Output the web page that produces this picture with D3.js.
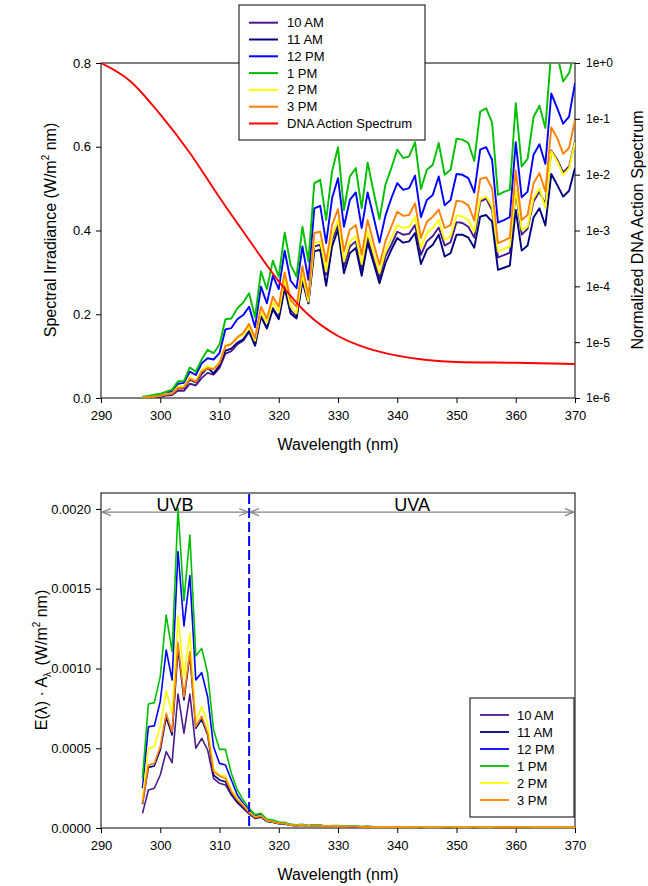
<!DOCTYPE html>
<html>
<head>
<meta charset="utf-8">
<script src="https://cdn.jsdelivr.net/npm/d3@7"></script>
<style>
    body { margin: 0; background: #fff; }
    svg { font-family: "Liberation Sans", Arial, sans-serif; }
    text { white-space: pre; }
</style>
</head>
<body>
<div id="chart"></div>
<script>
// wavelengths of the measured spectra, nm
const wavelengths = d3.range(297, 371)

// spectral irradiance, W/m2 nm (top panel)
const irr10am = [0.000, 0.001, 0.002, 0.003, 0.006, 0.007, 0.018, 0.017, 0.034, 0.030,
    0.048, 0.060, 0.056, 0.072, 0.106, 0.112, 0.128, 0.137, 0.158, 0.126,
    0.194, 0.168, 0.215, 0.192, 0.268, 0.210, 0.194, 0.286, 0.226, 0.362,
    0.366, 0.294, 0.378, 0.413, 0.314, 0.362, 0.374, 0.306, 0.382, 0.334,
    0.286, 0.338, 0.366, 0.397, 0.390, 0.392, 0.413, 0.342, 0.374, 0.387,
    0.407, 0.364, 0.372, 0.420, 0.418, 0.409, 0.383, 0.469, 0.476, 0.449,
    0.336, 0.341, 0.347, 0.495, 0.390, 0.404, 0.469, 0.493, 0.463, 0.591,
    0.569, 0.539, 0.553, 0.614]
const irr11am = [0.001, 0.002, 0.003, 0.004, 0.008, 0.009, 0.024, 0.023, 0.044, 0.037,
    0.058, 0.072, 0.059, 0.077, 0.113, 0.118, 0.132, 0.140, 0.160, 0.125,
    0.195, 0.166, 0.212, 0.188, 0.262, 0.202, 0.190, 0.278, 0.226, 0.350,
    0.354, 0.268, 0.362, 0.402, 0.298, 0.346, 0.358, 0.292, 0.370, 0.323,
    0.274, 0.322, 0.354, 0.382, 0.371, 0.374, 0.394, 0.320, 0.354, 0.366,
    0.390, 0.338, 0.346, 0.390, 0.390, 0.383, 0.359, 0.433, 0.437, 0.421,
    0.306, 0.311, 0.316, 0.449, 0.352, 0.364, 0.431, 0.453, 0.412, 0.535,
    0.509, 0.481, 0.495, 0.549]
const irr12pm = [0.002, 0.004, 0.006, 0.008, 0.013, 0.016, 0.034, 0.036, 0.063, 0.055,
    0.083, 0.095, 0.092, 0.107, 0.164, 0.167, 0.188, 0.198, 0.218, 0.169,
    0.266, 0.226, 0.292, 0.260, 0.352, 0.280, 0.262, 0.362, 0.282, 0.453,
    0.459, 0.370, 0.477, 0.525, 0.409, 0.473, 0.491, 0.406, 0.491, 0.433,
    0.371, 0.435, 0.477, 0.513, 0.497, 0.501, 0.531, 0.432, 0.473, 0.485,
    0.529, 0.460, 0.473, 0.535, 0.533, 0.525, 0.491, 0.593, 0.599, 0.569,
    0.419, 0.425, 0.432, 0.611, 0.479, 0.493, 0.581, 0.606, 0.559, 0.727,
    0.692, 0.655, 0.672, 0.752]
const irr1pm = [0.003, 0.005, 0.008, 0.010, 0.015, 0.020, 0.040, 0.041, 0.073, 0.063,
    0.092, 0.115, 0.107, 0.127, 0.188, 0.190, 0.214, 0.228, 0.250, 0.193,
    0.302, 0.260, 0.328, 0.290, 0.395, 0.318, 0.290, 0.409, 0.326, 0.513,
    0.521, 0.425, 0.541, 0.599, 0.449, 0.529, 0.549, 0.453, 0.562, 0.493,
    0.427, 0.509, 0.549, 0.593, 0.573, 0.577, 0.611, 0.499, 0.545, 0.557,
    0.609, 0.533, 0.545, 0.619, 0.617, 0.609, 0.566, 0.684, 0.692, 0.658,
    0.485, 0.492, 0.497, 0.704, 0.553, 0.571, 0.671, 0.698, 0.645, 0.830,
    0.820, 0.756, 0.776, 0.830]
const irr2pm = [0.001, 0.002, 0.004, 0.005, 0.010, 0.011, 0.028, 0.027, 0.050, 0.040,
    0.066, 0.076, 0.070, 0.085, 0.126, 0.130, 0.143, 0.151, 0.170, 0.137,
    0.207, 0.180, 0.229, 0.205, 0.284, 0.218, 0.202, 0.294, 0.230, 0.370,
    0.374, 0.302, 0.386, 0.425, 0.326, 0.374, 0.386, 0.320, 0.397, 0.346,
    0.298, 0.350, 0.382, 0.413, 0.406, 0.409, 0.432, 0.358, 0.394, 0.406,
    0.425, 0.378, 0.386, 0.436, 0.433, 0.425, 0.397, 0.476, 0.481, 0.457,
    0.350, 0.356, 0.362, 0.497, 0.402, 0.409, 0.477, 0.501, 0.453, 0.589,
    0.565, 0.533, 0.549, 0.611]
const irr3pm = [0.001, 0.002, 0.003, 0.005, 0.008, 0.010, 0.024, 0.025, 0.046, 0.039,
    0.063, 0.071, 0.069, 0.083, 0.124, 0.129, 0.145, 0.155, 0.177, 0.143,
    0.218, 0.190, 0.242, 0.218, 0.300, 0.234, 0.218, 0.315, 0.242, 0.394,
    0.397, 0.326, 0.413, 0.451, 0.350, 0.402, 0.413, 0.342, 0.425, 0.370,
    0.318, 0.374, 0.409, 0.445, 0.435, 0.437, 0.465, 0.382, 0.421, 0.433,
    0.450, 0.406, 0.413, 0.471, 0.469, 0.460, 0.424, 0.523, 0.527, 0.501,
    0.370, 0.376, 0.383, 0.543, 0.425, 0.437, 0.513, 0.537, 0.493, 0.646,
    0.621, 0.583, 0.597, 0.664]

// DNA action spectrum, normalized (right log axis)
const actionWl = [290, 295, 300, 305, 310, 315, 320, 325, 330, 335, 340, 345, 350, 360, 370]
const actionVal = [1, 0.468, 0.120, 0.0245, 0.00389, 0.000676, 0.000123, 3.09e-5,
    1.29e-5, 7.76e-6, 5.75e-6, 4.79e-6, 4.42e-6, 4.27e-6, 4.07e-6]

// weighted irradiance E(l)*A(l), W/m2 nm (bottom panel)
const ea10am = [0.000092, 0.000238, 0.000249, 0.000332, 0.000479, 0.000410, 0.000840, 0.000594, 0.000840, 0.000500,
    0.000562, 0.000489, 0.000311, 0.000280, 0.000270, 0.000207, 0.000159, 0.000123, 0.000088, 0.000060,
    0.000068, 0.000041, 0.000036, 0.000027,
    2.6e-5, 1.8e-5, 1.5e-5, 1.7e-5, 1.2e-5, 1.5e-5, 1.3e-5, 0.9e-5, 1.1e-5, 1.1e-5,
    0.8e-5, 0.8e-5, 0.8e-5, 0.6e-5, 0.7e-5, 0.6e-5, 0.5e-5, 0.6e-5, 0.6e-5, 0.6e-5,
    0.6e-5, 0.6e-5, 0.6e-5, 0.5e-5, 0.5e-5, 0.5e-5, 0.5e-5, 0.5e-5, 0.5e-5, 0.5e-5,
    0.5e-5, 0.5e-5, 0.5e-5, 0.5e-5, 0.5e-5, 0.5e-5, 0.4e-5, 0.4e-5, 0.4e-5, 0.5e-5,
    0.4e-5, 0.4e-5, 0.5e-5, 0.5e-5, 0.5e-5, 0.6e-5, 0.6e-5, 0.6e-5, 0.6e-5, 0.6e-5]
const ea11am = [0.000150, 0.000380, 0.000389, 0.000489, 0.000694, 0.000583, 0.001126, 0.000803, 0.001085, 0.000625,
    0.000681, 0.000583, 0.000332, 0.000301, 0.000290, 0.000217, 0.000165, 0.000130, 0.000092, 0.000063,
    0.000070, 0.000042, 0.000037, 0.000028,
    2.6e-5, 1.8e-5, 1.5e-5, 1.7e-5, 1.2e-5, 1.5e-5, 1.3e-5, 0.9e-5, 1.1e-5, 1.1e-5,
    0.8e-5, 0.8e-5, 0.8e-5, 0.6e-5, 0.7e-5, 0.6e-5, 0.5e-5, 0.5e-5, 0.5e-5, 0.6e-5,
    0.5e-5, 0.5e-5, 0.5e-5, 0.4e-5, 0.5e-5, 0.5e-5, 0.5e-5, 0.4e-5, 0.4e-5, 0.5e-5,
    0.5e-5, 0.5e-5, 0.4e-5, 0.5e-5, 0.5e-5, 0.5e-5, 0.3e-5, 0.3e-5, 0.3e-5, 0.5e-5,
    0.4e-5, 0.4e-5, 0.5e-5, 0.5e-5, 0.5e-5, 0.5e-5, 0.5e-5, 0.5e-5, 0.5e-5, 0.6e-5]
const ea12pm = [0.000249, 0.000635, 0.000640, 0.000792, 0.001116, 0.000928, 0.001733, 0.001266, 0.001582, 0.000928,
    0.000974, 0.000823, 0.000510, 0.000405, 0.000395, 0.000301, 0.000207, 0.000155, 0.000113, 0.000078,
    0.000082, 0.000050, 0.000045, 0.000034,
    3.1e-5, 2.1e-5, 1.8e-5, 2.0e-5, 1.4e-5, 1.8e-5, 1.6e-5, 1.1e-5, 1.3e-5, 1.3e-5,
    0.9e-5, 1.0e-5, 1.0e-5, 0.8e-5, 0.9e-5, 0.7e-5, 0.6e-5, 0.7e-5, 0.7e-5, 0.7e-5,
    0.7e-5, 0.7e-5, 0.7e-5, 0.5e-5, 0.6e-5, 0.6e-5, 0.6e-5, 0.5e-5, 0.5e-5, 0.6e-5,
    0.6e-5, 0.6e-5, 0.5e-5, 0.6e-5, 0.6e-5, 0.6e-5, 0.4e-5, 0.4e-5, 0.4e-5, 0.6e-5,
    0.5e-5, 0.5e-5, 0.6e-5, 0.6e-5, 0.6e-5, 0.7e-5, 0.7e-5, 0.7e-5, 0.7e-5, 0.7e-5]
const ea1pm = [0.000311, 0.000777, 0.000786, 0.000949, 0.001335, 0.001105, 0.002004, 0.001425, 0.001837, 0.001078,
    0.001126, 0.000970, 0.000614, 0.000493, 0.000493, 0.000343, 0.000238, 0.000176, 0.000123, 0.000085,
    0.000092, 0.000055, 0.000050, 0.000038,
    3.5e-5, 2.4e-5, 2.0e-5, 2.3e-5, 1.6e-5, 2.0e-5, 1.8e-5, 1.3e-5, 1.5e-5, 1.5e-5,
    1.0e-5, 1.1e-5, 1.1e-5, 0.9e-5, 1.0e-5, 0.8e-5, 0.7e-5, 0.8e-5, 0.8e-5, 0.8e-5,
    0.8e-5, 0.8e-5, 0.8e-5, 0.6e-5, 0.7e-5, 0.7e-5, 0.7e-5, 0.6e-5, 0.6e-5, 0.7e-5,
    0.7e-5, 0.7e-5, 0.6e-5, 0.7e-5, 0.7e-5, 0.7e-5, 0.5e-5, 0.5e-5, 0.5e-5, 0.7e-5,
    0.6e-5, 0.6e-5, 0.7e-5, 0.7e-5, 0.7e-5, 0.8e-5, 0.8e-5, 0.8e-5, 0.8e-5, 0.8e-5]
const ea2pm = [0.000176, 0.000500, 0.000510, 0.000635, 0.000861, 0.000719, 0.001329, 0.000949, 0.001220, 0.000667,
    0.000761, 0.000656, 0.000368, 0.000332, 0.000326, 0.000238, 0.000186, 0.000144, 0.000102, 0.000070,
    0.000076, 0.000046, 0.000040, 0.000030,
    2.8e-5, 1.9e-5, 1.6e-5, 1.8e-5, 1.3e-5, 1.6e-5, 1.4e-5, 1.0e-5, 1.2e-5, 1.2e-5,
    0.8e-5, 0.9e-5, 0.9e-5, 0.7e-5, 0.8e-5, 0.6e-5, 0.5e-5, 0.6e-5, 0.6e-5, 0.6e-5,
    0.6e-5, 0.6e-5, 0.6e-5, 0.5e-5, 0.5e-5, 0.5e-5, 0.5e-5, 0.5e-5, 0.5e-5, 0.5e-5,
    0.5e-5, 0.5e-5, 0.5e-5, 0.5e-5, 0.5e-5, 0.5e-5, 0.4e-5, 0.4e-5, 0.4e-5, 0.5e-5,
    0.4e-5, 0.4e-5, 0.5e-5, 0.5e-5, 0.5e-5, 0.6e-5, 0.5e-5, 0.5e-5, 0.5e-5, 0.6e-5]
const ea3pm = [0.000155, 0.000395, 0.000405, 0.000510, 0.000719, 0.000604, 0.001162, 0.000823, 0.001105, 0.000635,
    0.000702, 0.000594, 0.000353, 0.000326, 0.000311, 0.000228, 0.000176, 0.000138, 0.000096, 0.000066,
    0.000074, 0.000045, 0.000039, 0.000030,
    2.8e-5, 1.9e-5, 1.6e-5, 1.8e-5, 1.3e-5, 1.6e-5, 1.4e-5, 1.0e-5, 1.2e-5, 1.2e-5,
    0.9e-5, 0.9e-5, 0.9e-5, 0.7e-5, 0.8e-5, 0.7e-5, 0.6e-5, 0.6e-5, 0.6e-5, 0.7e-5,
    0.6e-5, 0.6e-5, 0.7e-5, 0.5e-5, 0.6e-5, 0.6e-5, 0.6e-5, 0.5e-5, 0.5e-5, 0.6e-5,
    0.6e-5, 0.6e-5, 0.5e-5, 0.6e-5, 0.6e-5, 0.6e-5, 0.4e-5, 0.4e-5, 0.4e-5, 0.6e-5,
    0.5e-5, 0.5e-5, 0.6e-5, 0.6e-5, 0.6e-5, 0.7e-5, 0.6e-5, 0.6e-5, 0.6e-5, 0.7e-5]

const seriesNames = ["10 AM", "11 AM", "12 PM", "1 PM", "2 PM", "3 PM"]
const seriesColors = ["#4b1a8c", "#000080", "#0000ff", "#00bf00", "#ffff00", "#ff8000"]
const topValues = [irr10am, irr11am, irr12pm, irr1pm, irr2pm, irr3pm]
const bottomValues = [ea10am, ea11am, ea12pm, ea1pm, ea2pm, ea3pm]

const xTicks = d3.range(290, 371, 10)
const topYTicks = [0, 0.2, 0.4, 0.6, 0.8]
const logTicks = [1e-6, 1e-5, 1e-4, 1e-3, 1e-2, 1e-1, 1]
const botYTicks = [0, 0.0005, 0.001, 0.0015, 0.002]

const series = seriesNames.map((name, i) => ({
    name,
    color: seriesColors[i],
    top: wavelengths.map((w, j) => [w, topValues[i][j]]),
    bottom: wavelengths.map((w, j) => [w, bottomValues[i][j]]),
}))

const width = 648
const height = 886
const left = 101
const right = 575

const svg = d3.select("#chart").append("svg")
    .attr("width", width)
    .attr("height", height)

const x = d3.scaleLinear().domain([290, 370]).range([left, right])
const yTop = d3.scaleLinear().domain([0, 0.8]).range([398, 63])
const yAction = d3.scaleLog().domain([1e-6, 1]).range([398, 63])
const yBot = d3.scaleLinear().domain([0, 0.0021]).range([828, 493])

const defs = svg.append("defs")
defs.append("clipPath").attr("id", "clipTop")
    .append("rect").attr("x", left).attr("y", 63).attr("width", right - left).attr("height", 335)
defs.append("clipPath").attr("id", "clipBot")
    .append("rect").attr("x", left).attr("y", 493).attr("width", right - left).attr("height", 336)

defs.append("marker")
    .attr("id", "arrowhead")
    .attr("viewBox", "0 -5 10 10")
    .attr("refX", 10)
    .attr("refY", 0)
    .attr("markerUnits", "userSpaceOnUse")
    .attr("markerWidth", 9)
    .attr("markerHeight", 9)
    .attr("orient", "auto-start-reverse")
    .append("path")
    .attr("d", "M0,-4L10,0L0,4")
    .attr("fill", "none")
    .attr("stroke", "#808080")
    .attr("stroke-width", 1.3)

function styleAxis(g) {
    g.select(".domain").remove()
    g.selectAll(".tick line").attr("stroke", "#000")
    g.selectAll(".tick text").attr("fill", "#000").attr("font-family", "Liberation Sans, Arial, sans-serif")
}

function xAxis(yPos) {
    svg.append("g")
        .attr("transform", `translate(0,${yPos})`)
        .call(d3.axisBottom(x).tickValues(xTicks).tickSize(5).tickPadding(8).tickFormat(d3.format("d")))
        .call(styleAxis)
        .selectAll(".tick text").attr("font-size", 13)
}

function frame(y0, y1) {
    svg.append("rect")
        .attr("x", left).attr("y", y0)
        .attr("width", right - left).attr("height", y1 - y0)
        .attr("fill", "none").attr("stroke", "#000").attr("stroke-width", 1)
}

// ---------- top panel ----------
frame(63, 398)
xAxis(398)

svg.append("g")
    .attr("transform", `translate(${left},0)`)
    .call(d3.axisLeft(yTop).tickValues(topYTicks).tickSize(5).tickPadding(5).tickFormat(d3.format(".1f")))
    .call(styleAxis)
    .selectAll(".tick text").attr("font-size", 13)

svg.append("g")
    .attr("transform", `translate(${right},0)`)
    .call(d3.axisRight(yAction).tickValues(logTicks).tickSize(5).tickPadding(6)
        .tickFormat((d) => {
            let e = Math.round(Math.log10(d))
            return "1e" + (e >= 0 ? "+" : "-") + Math.abs(e)
        }))
    .call(styleAxis)
    .selectAll(".tick text").attr("font-size", 12)

let topLine = d3.line()
    .x((d) => x(d[0]))
    .y((d) => yTop(d[1]))

let topPlot = svg.append("g").attr("clip-path", "url(#clipTop)")
topPlot.selectAll("path.series")
    .data(series)
    .join("path")
    .attr("class", "series")
    .attr("d", (d) => topLine(d.top))
    .attr("fill", "none")
    .attr("stroke", (d) => d.color)
    .attr("stroke-width", 1.9)
    .attr("stroke-linejoin", "round")

let actionLine = d3.line()
    .x((d) => x(d[0]))
    .y((d) => yAction(d[1]))
    .curve(d3.curveMonotoneX)

topPlot.append("path")
    .datum(actionWl.map((w, i) => [w, actionVal[i]]))
    .attr("d", actionLine)
    .attr("fill", "none")
    .attr("stroke", "#ff0000")
    .attr("stroke-width", 1.9)

svg.append("text")
    .attr("transform", "translate(56,230) rotate(-90)")
    .attr("text-anchor", "middle")
    .attr("font-size", 16)
    .call((t) => {
        t.append("tspan").text("Spectral Irradiance (W/m")
        t.append("tspan").attr("font-size", 10).attr("dy", -7).text("2")
        t.append("tspan").attr("dy", 7).text(" nm)")
    })

svg.append("text")
    .attr("transform", "translate(643,230) rotate(-90)")
    .attr("text-anchor", "middle")
    .attr("font-size", 16)
    .text("Normalized DNA Action Spectrum")

svg.append("text")
    .attr("x", (left + right) / 2).attr("y", 450)
    .attr("text-anchor", "middle")
    .attr("font-size", 16)
    .text("Wavelength (nm)")

// top legend
let topLegendItems = series.map((s) => ({name: s.name, color: s.color}))
    .concat([{name: "DNA Action Spectrum", color: "#ff0000"}])

let topLegend = svg.append("g")
topLegend.append("rect")
    .attr("x", 239).attr("y", 5).attr("width", 186).attr("height", 135)
    .attr("fill", "#fff").attr("stroke", "#000").attr("stroke-width", 1)
let tl = topLegend.selectAll("g.item")
    .data(topLegendItems)
    .join("g")
    .attr("class", "item")
    .attr("transform", (d, i) => `translate(0,${22.7 + i * 16.8})`)
tl.append("line")
    .attr("x1", 249).attr("x2", 278)
    .attr("stroke", (d) => d.color).attr("stroke-width", 2)
tl.append("text")
    .attr("x", 287).attr("dy", "0.35em")
    .attr("font-size", 13)
    .text((d) => d.name)

// ---------- bottom panel ----------
frame(493, 828)
xAxis(828)

svg.append("g")
    .attr("transform", `translate(${left},0)`)
    .call(d3.axisLeft(yBot).tickValues(botYTicks).tickSize(5).tickPadding(5).tickFormat(d3.format(".4f")))
    .call(styleAxis)
    .selectAll(".tick text").attr("font-size", 13)

let botLine = d3.line()
    .x((d) => x(d[0]))
    .y((d) => yBot(d[1]))

let botPlot = svg.append("g").attr("clip-path", "url(#clipBot)")
botPlot.selectAll("path.series")
    .data(series)
    .join("path")
    .attr("class", "series")
    .attr("d", (d) => botLine(d.bottom))
    .attr("fill", "none")
    .attr("stroke", (d) => d.color)
    .attr("stroke-width", 1.6)
    .attr("stroke-linejoin", "round")

// UVB / UVA boundary
svg.append("line")
    .attr("x1", x(315)).attr("x2", x(315))
    .attr("y1", 494).attr("y2", 828)
    .attr("stroke", "#0000ff")
    .attr("stroke-width", 2)
    .attr("stroke-dasharray", "10,4")

let bands = [
    {name: "UVB", from: 290, to: 315},
    {name: "UVA", from: 315, to: 370},
]
let arrowY = yBot(0.00198)
bands.forEach((b) => {
    svg.append("line")
        .attr("x1", x(b.from) + 1).attr("x2", x(b.to) - 1)
        .attr("y1", arrowY).attr("y2", arrowY)
        .attr("stroke", "#808080")
        .attr("stroke-width", 1.3)
        .attr("marker-start", "url(#arrowhead)")
        .attr("marker-end", "url(#arrowhead)")
    svg.append("text")
        .attr("x", x((b.from + b.to) / 2))
        .attr("y", arrowY - 1)
        .attr("text-anchor", "middle")
        .attr("font-size", 18)
        .text(b.name)
})

svg.append("text")
    .attr("transform", "translate(47,660) rotate(-90)")
    .attr("text-anchor", "middle")
    .attr("font-size", 16)
    .call((t) => {
        t.append("tspan").text("E(\u03bb) \u00b7 A")
        t.append("tspan").attr("font-size", 10).attr("dy", 4).text("\u03bb")
        t.append("tspan").attr("dy", -4).attr("dx", 2).text(" (W/m")
        t.append("tspan").attr("font-size", 10).attr("dy", -7).text("2")
        t.append("tspan").attr("dy", 7).text(" nm)")
    })

svg.append("text")
    .attr("x", (left + right) / 2).attr("y", 880)
    .attr("text-anchor", "middle")
    .attr("font-size", 16)
    .text("Wavelength (nm)")

// bottom legend
let botLegend = svg.append("g")
botLegend.append("rect")
    .attr("x", 470).attr("y", 698).attr("width", 104).attr("height", 119)
    .attr("fill", "#fff").attr("stroke", "#000").attr("stroke-width", 1)
let bl = botLegend.selectAll("g.item")
    .data(series)
    .join("g")
    .attr("class", "item")
    .attr("transform", (d, i) => `translate(0,${715 + i * 17})`)
bl.append("line")
    .attr("x1", 480).attr("x2", 509)
    .attr("stroke", (d) => d.color).attr("stroke-width", 1.8)
bl.append("text")
    .attr("x", 517).attr("dy", "0.35em")
    .attr("font-size", 13)
    .text((d) => d.name)
</script>
</body>
</html>
